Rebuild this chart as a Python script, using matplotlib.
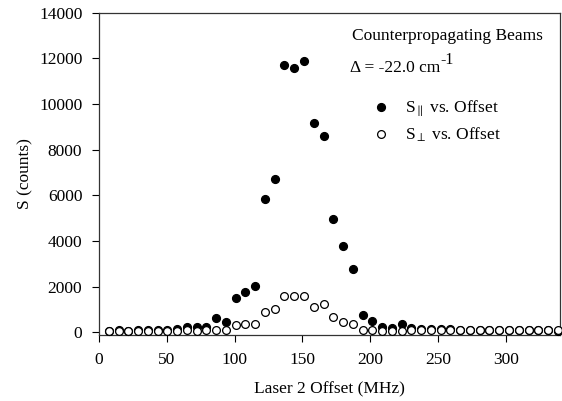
import matplotlib
matplotlib.use("Agg")
import matplotlib.pyplot as plt

# laser 2 offset (MHz), one point every 7.2 MHz
offset = [7.2, 14.4, 21.6, 28.8, 36.0, 43.2, 50.4, 57.6, 64.8, 72.0,
          79.2, 86.4, 93.6, 100.8, 108.0, 115.2, 122.4, 129.6, 136.8, 144.0,
          151.2, 158.4, 165.6, 172.8, 180.0, 187.2, 194.4, 201.6, 208.8, 216.0,
          223.2, 230.4, 237.6, 244.8, 252.0, 259.2, 266.4, 273.6, 280.8, 288.0,
          295.2, 302.4, 309.6, 316.8, 324.0, 331.2, 338.4]

s_par = [60, 80, 70, 90, 80, 100, 120, 150, 210, 220,
         240, 620, 440, 1520, 1780, 2010, 5820, 6700, 11720, 11570,
         11890, 9160, 8620, 4950, 3790, 2770, 750, 500, 240, 175,
         340, 175, 150, 140, 130, 150, 110, 100, 90, 100,
         90, 100, 110, 80, 90, 80, 70]

s_perp = [70, 70, 70, 70, 70, 70, 70, 70, 80, 70,
          80, 110, 100, 320, 340, 370, 900, 1020, 1590, 1590,
          1590, 1090, 1226, 683, 470, 340, 120, 100, 70, 70,
          70, 80, 80, 80, 80, 80, 80, 80, 80, 80,
          80, 80, 80, 80, 80, 80, 80]

plt.rcParams["font.family"] = "Liberation Serif"
plt.rcParams["mathtext.fontset"] = "custom"
plt.rcParams["mathtext.rm"] = "Liberation Serif"
plt.rcParams["mathtext.it"] = "Liberation Serif:italic"
plt.rcParams["font.size"] = 12.5

fig = plt.figure(figsize=(5.62, 4.01), dpi=100)
ax = fig.add_axes([0.1762, 0.1646, 0.8202, 0.8037])

ax.plot(offset, s_par, linestyle="None", marker="o", markersize=5.6,
        color="black", clip_on=False, zorder=3,
        label=r"S$_{\parallel}$ vs. Offset")
ax.plot(offset, s_perp, linestyle="None", marker="o", markersize=5.6,
        markerfacecolor="white", markeredgecolor="black",
        markeredgewidth=0.9, clip_on=False, zorder=4,
        label=r"S$_{\perp}$ vs. Offset")

ax.set_xlim(0, 340)
ax.set_ylim(-120, 14000)
ax.set_xticks(range(0, 301, 50))
ax.set_yticks(range(0, 14001, 2000))
ax.tick_params(direction="out", length=5, width=0.8, pad=7, colors="black")
for sp in ax.spines.values():
    sp.set_linewidth(0.9)
    sp.set_color("#333333")

ax.set_xlabel("Laser 2 Offset (MHz)", labelpad=10)
ax.set_ylabel("S (counts)", labelpad=4)

ax.text(0.548, 0.928, "Counterpropagating Beams", transform=ax.transAxes,
        ha="left", va="center")
delta = ax.text(0.544, 0.828, "Δ = -22.0 cm", transform=ax.transAxes,
                ha="left", va="center")
# superscript drawn as its own text, hooked to the end of the delta line
ax.annotate("-1", xy=(1.0, 1.0), xycoords=delta, xytext=(0.5, 0),
            textcoords="offset points", ha="left", va="center",
            fontsize=11.5)

ax.legend(loc="upper left", bbox_to_anchor=(0.574, 0.76), frameon=False,
          borderpad=0, handlelength=1.0, handletextpad=0.9,
          labelspacing=0.4, markerscale=1.0)

fig.savefig("out.png", dpi=100)
